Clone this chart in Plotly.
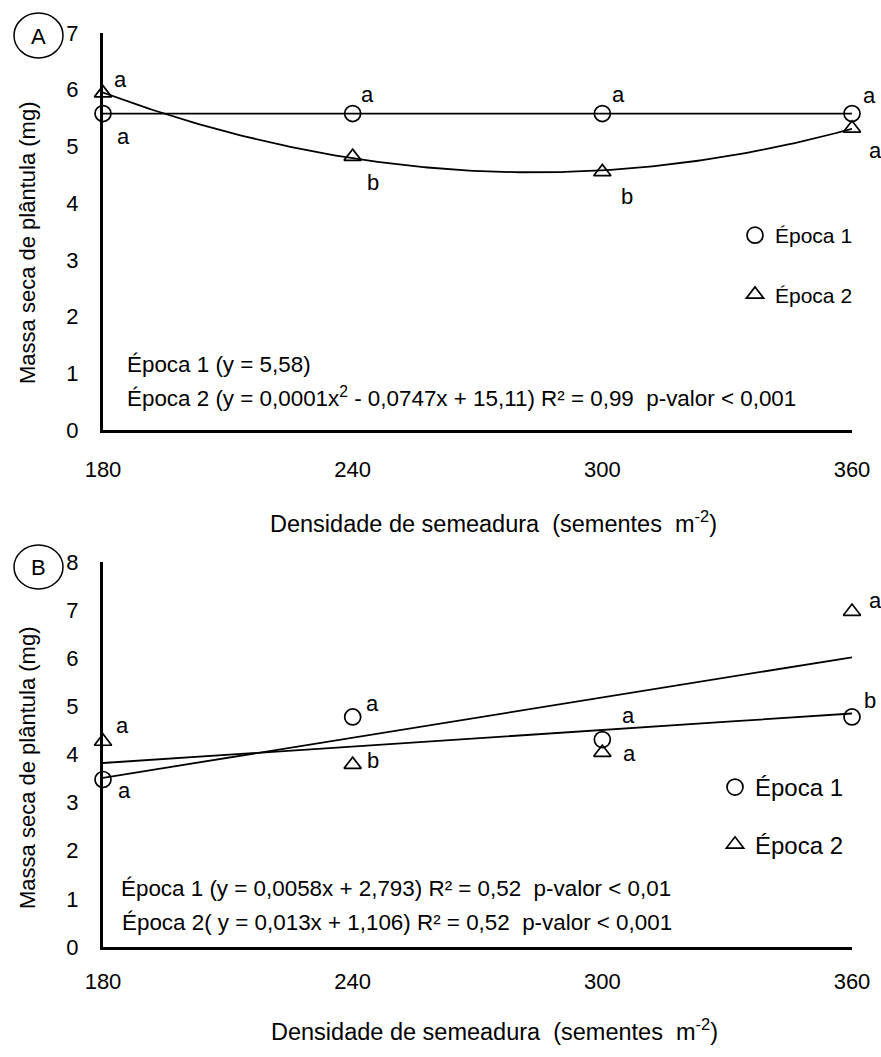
import numpy as np
import plotly.graph_objects as go

W, H = 881, 1057

# ---------------- data ----------------
densidade = [180, 240, 300, 360]
x_ticks = [180, 240, 300, 360]

# Panel A
a_epoca1 = [5.58, 5.58, 5.58, 5.58]
a_epoca2 = [5.94, 4.82, 4.55, 5.32]
a_letters_ep1 = ["a", "a", "a", "a"]
a_letters_ep2 = ["a", "b", "b", "a"]

# Panel B
b_epoca1 = [3.48, 4.78, 4.31, 4.78]
b_epoca2 = [4.27, 3.79, 4.04, 6.97]
b_letters_ep1 = ["a", "a", "a", "b"]
b_letters_ep2 = ["a", "b", "a", "a"]

eq_a = ["Época 1 (y = 5,58)",
        "Época 2 (y = 0,0001x<sup>2</sup> - 0,0747x + 15,11) R² = 0,99  p-valor < 0,001"]
eq_b = ["Época 1 (y = 0,0058x + 2,793) R² = 0,52  p-valor < 0,01",
        "Época 2( y = 0,013x + 1,106) R² = 0,52  p-valor < 0,001"]

ytitle = "Massa seca de plântula (mg)"
xtitle = "Densidade de semeadura  (sementes  m<sup>-2</sup>)"

FONT = "Liberation Sans, Arial, sans-serif"


def px(x):
    return x / W


def py(y):
    return 1 - y / H


fig = go.Figure()

xs = np.linspace(180, 360, 181)

# ---- Panel A ----
fit_a1 = np.mean(a_epoca1)
fig.add_trace(go.Scatter(x=[180, 360], y=[fit_a1, fit_a1], mode="lines",
                         line=dict(color="black", width=1.8), showlegend=False,
                         xaxis="x", yaxis="y", hoverinfo="skip"))
ca2 = np.polyfit(densidade, a_epoca2, 2)
fig.add_trace(go.Scatter(x=xs, y=np.polyval(ca2, xs), mode="lines",
                         line=dict(color="black", width=1.8), showlegend=False,
                         xaxis="x", yaxis="y", hoverinfo="skip"))
fig.add_trace(go.Scatter(x=densidade, y=a_epoca1, mode="markers", name="Época 1",
                         marker=dict(symbol="circle-open", size=16, color="black",
                                     line=dict(width=1.7)),
                         xaxis="x", yaxis="y", cliponaxis=False,
                         legend="legend", legendgroup="a1"))
fig.add_trace(go.Scatter(x=densidade, y=a_epoca2, mode="markers", name="Época 2",
                         marker=dict(symbol="triangle-up-open", size=15, color="black",
                                     line=dict(width=1.7)),
                         xaxis="x", yaxis="y", cliponaxis=False,
                         legend="legend", legendgroup="a2"))

# ---- Panel B ----
cb1 = np.polyfit(densidade, b_epoca1, 1)
cb2 = np.polyfit(densidade, b_epoca2, 1)
fig.add_trace(go.Scatter(x=xs, y=np.polyval(cb1, xs), mode="lines",
                         line=dict(color="black", width=1.8), showlegend=False,
                         xaxis="x2", yaxis="y2", hoverinfo="skip"))
fig.add_trace(go.Scatter(x=xs, y=np.polyval(cb2, xs), mode="lines",
                         line=dict(color="black", width=1.8), showlegend=False,
                         xaxis="x2", yaxis="y2", hoverinfo="skip"))
fig.add_trace(go.Scatter(x=densidade, y=b_epoca1, mode="markers", name="Época 1",
                         marker=dict(symbol="circle-open", size=16, color="black",
                                     line=dict(width=1.7)),
                         xaxis="x2", yaxis="y2", cliponaxis=False,
                         legend="legend2", legendgroup="b1"))
fig.add_trace(go.Scatter(x=densidade, y=b_epoca2, mode="markers", name="Época 2",
                         marker=dict(symbol="triangle-up-open", size=15, color="black",
                                     line=dict(width=1.7)),
                         xaxis="x2", yaxis="y2", cliponaxis=False,
                         legend="legend2", legendgroup="b2"))

# ---- letter annotations ----
annotations = []
shifts_a1 = [(20, -23), (15, 19), (16, 19), (17, 18)]
shifts_a2 = [(17, 14), (20, -26), (25, -25), (23, -22)]
shifts_b1 = [(21, -11), (20, 13), (26, 24), (18, 16)]
shifts_b2 = [(19, 16), (20, 4), (27, -1), (23, 11)]
for xr, yr, vals, lets, shifts in [
    ("x", "y", a_epoca1, a_letters_ep1, shifts_a1),
    ("x", "y", a_epoca2, a_letters_ep2, shifts_a2),
    ("x2", "y2", b_epoca1, b_letters_ep1, shifts_b1),
    ("x2", "y2", b_epoca2, b_letters_ep2, shifts_b2),
]:
    for xv, yv, t, (sx, sy) in zip(densidade, vals, lets, shifts):
        annotations.append(dict(x=xv, y=yv, xref=xr, yref=yr, text=t,
                                showarrow=False, xshift=sx, yshift=sy,
                                font=dict(family=FONT, size=22, color="black")))

# equations
for txt, (x0, y0) in zip(eq_a, [(125, 365), (125, 397)]):
    annotations.append(dict(x=px(x0), y=py(y0), xref="paper", yref="paper", text=txt,
                            xanchor="left", yanchor="middle", showarrow=False,
                            font=dict(family=FONT, size=22.4, color="black")))
for txt, (x0, y0) in zip(eq_b, [(119, 888), (120, 922)]):
    annotations.append(dict(x=px(x0), y=py(y0), xref="paper", yref="paper", text=txt,
                            xanchor="left", yanchor="middle", showarrow=False,
                            font=dict(family=FONT, size=22.4, color="black")))

# axis titles
for (x0, y0) in [(27, 243), (27, 768)]:
    annotations.append(dict(x=px(x0), y=py(y0), xref="paper", yref="paper", text=ytitle,
                            textangle=-90, showarrow=False, xanchor="center", yanchor="middle",
                            font=dict(family=FONT, size=22, color="black")))
for (x0, y0) in [(493, 522), (494, 1030)]:
    annotations.append(dict(x=px(x0), y=py(y0), xref="paper", yref="paper", text=xtitle,
                            showarrow=False, xanchor="center", yanchor="middle",
                            font=dict(family=FONT, size=23.5, color="black")))

# panel labels
for lab, (cx, cy) in [("A", (38, 36)), ("B", (38, 567))]:
    annotations.append(dict(x=px(cx), y=py(cy), xref="paper", yref="paper", text=lab,
                            showarrow=False, xanchor="center", yanchor="middle",
                            font=dict(family=FONT, size=22, color="black")))

shapes = []
for (x0, y0, x1, y1) in [(14, 13, 63, 58), (14, 545, 63, 589)]:
    shapes.append(dict(type="circle", xref="paper", yref="paper",
                       x0=px(x0), x1=px(x1), y0=py(y1), y1=py(y0),
                       line=dict(color="black", width=1.5)))

axis_common = dict(showline=True, linecolor="black", linewidth=3, showgrid=False,
                   zeroline=False, ticks="", mirror=False, automargin=False,
                   tickfont=dict(family=FONT, size=22, color="black"))

X0, X1 = 103, 852
fig.update_layout(
    width=W, height=H, margin=dict(l=0, r=0, t=0, b=0, autoexpand=False),
    paper_bgcolor="white", plot_bgcolor="white",
    font=dict(family=FONT, color="black"),
    xaxis=dict(domain=[px(X0), px(X1)], range=[180, 360], anchor="y",
               tickvals=x_ticks, ticklabelstandoff=18, **axis_common),
    yaxis=dict(domain=[py(430), py(33)], range=[0, 7], dtick=1, anchor="x",
               ticklabelstandoff=17, **axis_common),
    xaxis2=dict(domain=[px(X0), px(X1)], range=[180, 360], anchor="y2",
                tickvals=x_ticks, ticklabelstandoff=13, **axis_common),
    yaxis2=dict(domain=[py(947), py(562)], range=[0, 8], dtick=1, anchor="x2",
                ticklabelstandoff=17, **axis_common),
    legend=dict(x=px(735), y=py(215), xanchor="left", yanchor="top",
                font=dict(family=FONT, size=21, color="black"),
                bgcolor="rgba(0,0,0,0)", tracegroupgap=29, itemwidth=30),
    legend2=dict(x=px(715), y=py(765), xanchor="left", yanchor="top",
                 font=dict(family=FONT, size=24, color="black"),
                 bgcolor="rgba(0,0,0,0)", tracegroupgap=23, itemwidth=30),
    annotations=annotations,
    shapes=shapes,
)

fig.write_html("out.html")
